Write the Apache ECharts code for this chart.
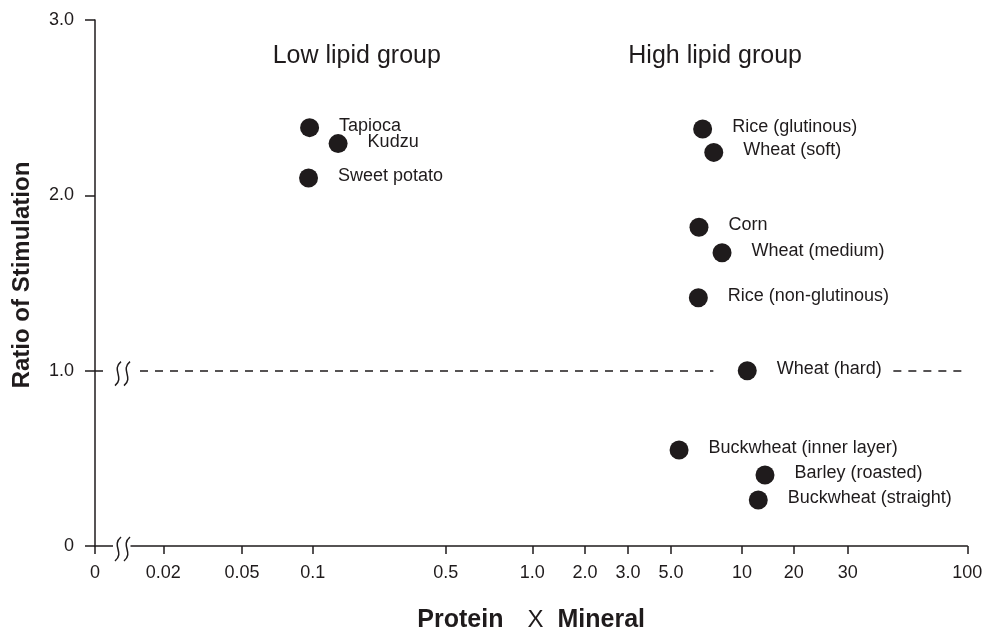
<!DOCTYPE html>
<html><head><meta charset="utf-8">
<script src="https://cdn.jsdelivr.net/npm/echarts@6/dist/echarts.min.js"></script>
<style>html,body{margin:0;padding:0;background:#fff}#c{width:982px;height:628px}</style>
</head><body><div id="c"></div>
<script>
// ---- data ----
const names = ['Tapioca','Kudzu','Sweet potato','Rice (glutinous)','Wheat (soft)','Corn','Wheat (medium)','Rice (non-glutinous)','Wheat (hard)','Buckwheat (inner layer)','Barley (roasted)','Buckwheat (straight)'];
const proteinXMineral = [0.097,0.136,0.096,6.81,7.59,6.57,8.23,6.53,10.73,5.41,13.61,12.44];
const ratioOfStimulation = [2.386,2.295,2.099,2.378,2.245,1.818,1.673,1.416,1.0,0.548,0.405,0.262];
const xTickValues = [0,0.02,0.05,0.1,0.5,1,2,3,5,10,20,30,100];
const xTickLabels = ['0','0.02','0.05','0.1','0.5','1.0','2.0','3.0','5.0','10','20','30','100'];
const yTickLabels = ['0','1.0','2.0','3.0'];
const groupTitles = ['Low lipid group','High lipid group'];
const referenceRatio = 1.0;

// ---- layout of the hand-drawn x scale (slot of each tick along the axis) ----
const xSlots = [0,68.3,147,217.7,350.7,437.3,490,533,576,647,698.7,752.7,872.3];
function toSlot(v){
  for (let i=0;i<xTickValues.length-1;i++){
    const a=xTickValues[i], b=xTickValues[i+1];
    if (v<=b){
      const f = a===0 ? (v-a)/(b-a) : Math.log(v/a)/Math.log(b/a);
      return xSlots[i]+f*(xSlots[i+1]-xSlots[i]);
    }
  }
  return xSlots[xSlots.length-1];
}

const INK = '#1f1b1c';
const FONT = '"Liberation Sans", Arial, Helvetica, sans-serif';
const chart = echarts.init(document.getElementById('c'), null, {renderer:'canvas'});

chart.setOption({
  backgroundColor:'#ffffff',
  animation:false,
  textStyle:{fontFamily:FONT, color:INK},
  grid:{left:95, top:20, width:872.3, height:526, containLabel:false, outerBoundsMode:'none'},
  xAxis:{
    type:'value', min:0, max:xSlots[xSlots.length-1],
    axisLine:{show:true, onZero:false, lineStyle:{color:INK, width:1.5}},
    axisTick:{show:true, customValues:xSlots, length:8, lineStyle:{color:INK, width:1.5}},
    axisLabel:{customValues:xSlots, margin:18, fontSize:18, color:INK, fontFamily:FONT,
      formatter:function(v){ let k=0,d=1e9; xSlots.forEach((s,i)=>{ if(Math.abs(s-v)<d){d=Math.abs(s-v);k=i;} }); return xTickLabels[k]; }},
    splitLine:{show:false},
    name:'{b|Protein}{n|X}{b|Mineral}', nameLocation:'middle', nameGap:62,
    nameTextStyle:{rich:{
      b:{fontSize:25, fontWeight:'bold', color:INK, fontFamily:FONT},
      n:{fontSize:24, color:INK, fontFamily:FONT, padding:[0,14,0,24]}
    }}
  },
  yAxis:{
    type:'value', min:0, max:3, interval:1,
    axisLine:{show:true, onZero:false, lineStyle:{color:INK, width:1.5}},
    axisTick:{show:true, length:10, lineStyle:{color:INK, width:1.5}},
    axisLabel:{margin:21, fontSize:18, color:INK, fontFamily:FONT,
      formatter:function(v){ return yTickLabels[Math.round(v)]; }},
    splitLine:{show:false}
  },
  series:[{
    type:'scatter',
    symbol:'circle', symbolSize:19,
    itemStyle:{color:INK, opacity:1},
    data:names.map((n,i)=>({name:n, value:[toSlot(proteinXMineral[i]), ratioOfStimulation[i]]})),
    label:{show:true, position:'right', distance:20, offset:[0,-2], formatter:'{b}', fontSize:18, color:INK, fontFamily:FONT},
    markLine:{
      silent:true, symbol:['none','none'], label:{show:false},
      lineStyle:{type:[8,7], color:INK, width:1.5, opacity:1},
      data:[
        [{coord:[toSlot(0),referenceRatio]},{coord:[toSlot(7.56),referenceRatio]}],
        [{coord:[toSlot(47.5),referenceRatio]},{coord:[toSlot(100),referenceRatio]}]
      ]
    }
  }]
});

// ---- annotations: axis breaks, group titles, y title ----
function wave(cx, top, bottom){
  const h = bottom-top;
  return {type:'bezierCurve', z:101, shape:{x1:cx+3, y1:top, cpx1:cx-7, cpy1:top+h*0.35, cpx2:cx+7, cpy2:top+h*0.65, x2:cx-3, y2:bottom},
    style:{stroke:INK, lineWidth:1.5, fill:null}};
}
const breakSlot = 27.5;
const p0 = chart.convertToPixel({gridIndex:0},[breakSlot,0]);
const p1 = chart.convertToPixel({gridIndex:0},[breakSlot,referenceRatio]);
const g = [];
[p0,p1].forEach((p,k)=>{
  g.push({type:'rect', z:100, shape:{x:p[0]-(k?13:9.5), y:p[1]-3, width:(k?24:17.5), height:6}, style:{fill:'#ffffff'}});
  g.push(wave(p[0]-4.5, p[1]-9, p[1]+15));
  g.push(wave(p[0]+4.5, p[1]-9, p[1]+15));
});
g.push({type:'text', z:100, x:272.7, y:56, style:{text:groupTitles[0], fontSize:25, fontFamily:FONT, fill:INK, align:'left', verticalAlign:'middle'}});
g.push({type:'text', z:100, x:628.3, y:56, style:{text:groupTitles[1], fontSize:25, fontFamily:FONT, fill:INK, align:'left', verticalAlign:'middle'}});
g.push({type:'text', z:100, x:22.5, y:275, rotation:Math.PI/2, style:{text:'Ratio of Stimulation', fontSize:24, fontWeight:'bold', fontFamily:FONT, fill:INK, align:'center', verticalAlign:'middle'}});
chart.setOption({graphic:g});
</script>
</body></html>
